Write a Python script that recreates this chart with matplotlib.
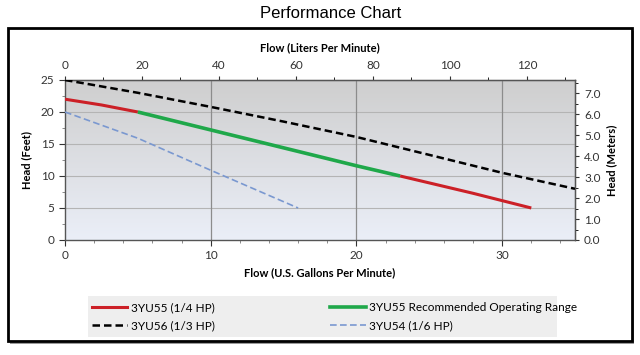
import matplotlib

matplotlib.use("Agg")
import matplotlib.pyplot as plt
import numpy as np
from matplotlib.lines import Line2D
from matplotlib.patches import Rectangle

plt.rcParams["font.family"] = ["Lato", "DejaVu Sans"]

# 3YU55 (1/4 HP): low-flow red, recommended green, high-flow red
gpm_55_low = [0, 2.5, 5]
head_55_low = [22, 21.1, 20]
gpm_55_rec = [5, 10, 15, 20, 23]
head_55_rec = [20, 17.2, 14.4, 11.6, 10]
gpm_55_high = [23, 28, 32]
head_55_high = [10, 7.3, 5]

# 3YU56 (1/3 HP)
gpm_56 = [0, 5, 10, 15, 20, 25, 30, 35]
head_56 = [25, 23, 20.8, 18.5, 16.1, 13.3, 10.5, 8.0]

# 3YU54 (1/6 HP)
gpm_54 = [0, 5, 10, 16]
head_54 = [20, 15.9, 10.9, 5]

gpm_ticks = [0, 10, 20, 30]
lpm_ticks = [0, 20, 40, 60, 80, 100, 120]
ft_ticks = [0, 5, 10, 15, 20, 25]
m_ticks = [0, 1, 2, 3, 4, 5, 6, 7]

labels = ["3YU55 (1/4 HP)", "3YU55 Recommended Operating Range",
          "3YU56 (1/3 HP)", "3YU54 (1/6 HP)"]

RED = "#cc2027"
GREEN = "#1fa84a"
BLUE = "#7a98d0"
GPM_TO_LPM = 3.78541
FT_TO_M = 0.3048

fig = plt.figure(figsize=(6.4, 3.55), dpi=100)

# outer frame with a soft shadow
fig.patches.append(Rectangle((10 / 640, 1 - 344 / 355), 624 / 640, 313 / 355,
                             transform=fig.transFigure, facecolor="#9a9a9a",
                             edgecolor="none", zorder=-3))
fig.patches.append(Rectangle((8 / 640, 1 - 341 / 355), 624 / 640, 313 / 355,
                             transform=fig.transFigure, facecolor="white",
                             edgecolor="black", linewidth=2.0, zorder=-2))
fig.text(0.517, 1 - 13 / 355, "Performance Chart", ha="center", va="center",
         fontsize=12, family=["Liberation Sans", "DejaVu Sans"])

ax = fig.add_axes([65 / 640, 1 - 240 / 355, 510 / 640, 160 / 355])
ax.set_xlim(0, 35)
ax.set_ylim(0, 25)

# gradient background, grey on top to pale blue at the bottom
top = np.array([0.81, 0.81, 0.81])
bot = np.array([0.92, 0.935, 0.97])
t = np.linspace(0, 1, 256)[:, None]
grad = (top * (1 - t) + bot * t)[:, None, :]
ax.imshow(grad, extent=[0, 1, 0, 1], transform=ax.transAxes,
          aspect="auto", zorder=0)

for y in ft_ticks[1:-1]:
    ax.axhline(y, color="#b4b4b4", lw=0.8, zorder=1)
for x in gpm_ticks[1:]:
    ax.axvline(x, color="#8c8c8c", lw=0.9, zorder=1)

ax.plot(gpm_56, head_56, color="black", lw=1.8, ls=(0, (3, 1.6)), zorder=3)
ax.plot(gpm_54, head_54, color=BLUE, lw=1.2, ls=(0, (4, 2)), zorder=3)
ax.plot(gpm_55_low, head_55_low, color=RED, lw=2.2, zorder=4,
        solid_capstyle="butt")
ax.plot(gpm_55_rec, head_55_rec, color=GREEN, lw=2.6, zorder=4,
        solid_capstyle="butt")
ax.plot(gpm_55_high, head_55_high, color=RED, lw=2.2, zorder=4,
        solid_capstyle="butt")

ax.set_xticks(gpm_ticks)
ax.set_xticks(np.arange(0, 36, 2), minor=True)
ax.set_yticks(ft_ticks)
ax.set_yticks(np.arange(0, 26, 2.5), minor=True)
ax.tick_params(labelsize=8.5, colors="#333333", length=4, width=0.8)
ax.tick_params(which="minor", length=2.5, width=0.6, colors="#777777")
for s in ax.spines.values():
    s.set_color("#555555")
    s.set_linewidth(1.0)

ax.set_xlabel("Flow (U.S. Gallons Per Minute)", fontsize=8, fontweight="bold",
              labelpad=4)
ax.set_ylabel("Head (Feet)", fontsize=8, fontweight="bold", labelpad=6)

top_ax = ax.secondary_xaxis("top", functions=(lambda g: g * GPM_TO_LPM,
                                              lambda l: l / GPM_TO_LPM))
top_ax.set_xticks(lpm_ticks)
top_ax.set_xticks(np.arange(0, 135, 10), minor=True)
top_ax.tick_params(labelsize=8.5, colors="#333333", length=3, width=0.8)
top_ax.tick_params(which="minor", length=2, width=0.6)
top_ax.set_xlabel("Flow (Liters Per Minute)", fontsize=8, fontweight="bold",
                  labelpad=6)

right_ax = ax.secondary_yaxis("right", functions=(lambda f: f * FT_TO_M,
                                                  lambda m: m / FT_TO_M))
right_ax.set_yticks(m_ticks)
right_ax.set_yticks(np.arange(0, 7.6, 0.5), minor=True)
right_ax.set_yticklabels([f"{v:.1f}" for v in m_ticks])
right_ax.tick_params(labelsize=8.5, colors="#333333", length=3, width=0.8)
right_ax.tick_params(which="minor", length=2, width=0.6)
right_ax.set_ylabel("Head (Meters)", fontsize=8, fontweight="bold", labelpad=4)

# legend panel
fig.patches.append(Rectangle((88 / 640, 1 - 337 / 355), 469 / 640, 41 / 355,
                             transform=fig.transFigure, facecolor="#eeeeee",
                             edgecolor="none", zorder=-1))
handles = [
    Line2D([], [], color=RED, lw=2.2),
    Line2D([], [], color="black", lw=1.8, ls=(0, (3, 1.6))),
    Line2D([], [], color=GREEN, lw=2.6),
    Line2D([], [], color=BLUE, lw=1.2, ls=(0, (4, 2))),
]
order = [labels[0], labels[2], labels[1], labels[3]]
fig.legend(handles, order, ncol=2, loc="center left",
           bbox_to_anchor=(81 / 640, 1 - 316.5 / 355), frameon=False,
           fontsize=8.5, handlelength=3.0, handletextpad=0.3,
           columnspacing=9.8, labelspacing=0.6)

fig.savefig("out.png", dpi=100)
